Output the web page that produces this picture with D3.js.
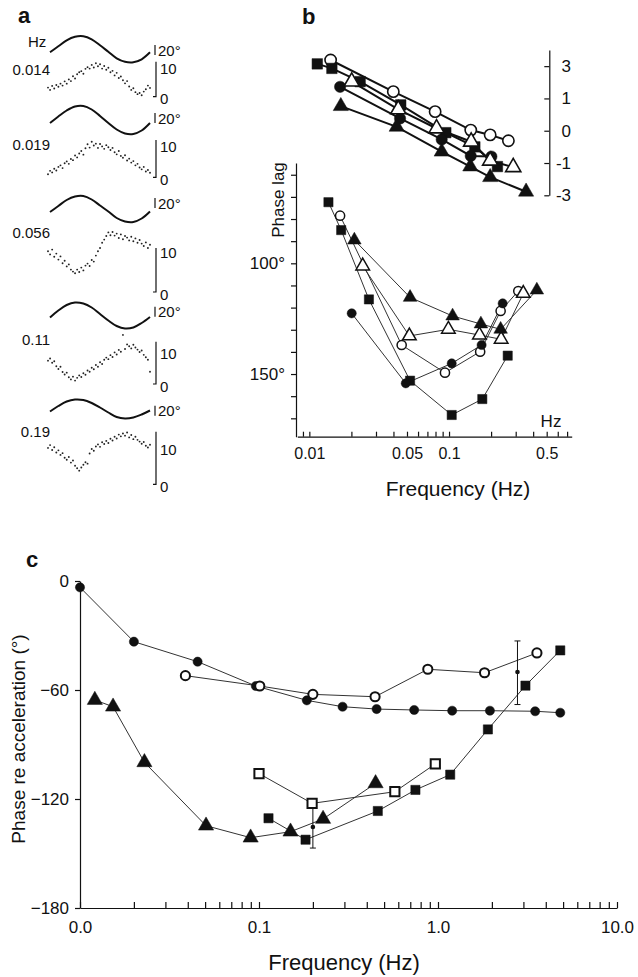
<!DOCTYPE html>
<html>
<head>
<meta charset="utf-8">
<script src="https://cdn.jsdelivr.net/npm/d3@7"></script>
<style>
  body { margin: 0; background: #fff; }
  svg { display: block; font-family: "Liberation Sans", Arial, sans-serif; }
</style>
</head>
<body>
<svg id="fig" width="638" height="977"></svg>
<script>
// ---------- panel a : stimulus (deg) and response traces ----------
const aFreqLabels = ['0.014', '0.019', '0.056', '0.11', '0.19'];
const aStim1 = [-6, 6, 18, 25, 26, 20, 8, -5, -18, -25, -26, -20, -6];
const aStim2 = [-6, 7, 19, 27, 28, 21, 8, -6, -19, -27, -28, -21, -6];
const aStim3 = [-6, 6, 18, 25, 26, 19, 7, -5, -18, -25, -26, -19, -5];
const aStim4 = [-4, 10, 21, 26, 24, 16, 3, -10, -21, -26, -24, -15, -3];
const aStim5 = [-5, 6, 15, 19, 18, 12, 3, -7, -16, -19, -17, -11, -3];
const aTrace1 = [3.2, 2.4, 3.8, 2.9, 4.1, 3.5, 4.6, 3.9, 5.4, 4.6, 6.1, 5.5, 7.2, 6.4, 7.9, 8.6, 9.0, 8.1, 9.8, 10.4, 9.9, 11.2, 10.3, 11.8, 10.7, 11.4, 9.9, 10.8, 9.5, 10.2, 8.6, 9.1, 7.5, 8.4, 6.6, 7.1, 5.8, 4.7, 5.5, 3.6, 2.4, 3.0, 1.6, 0.9, 1.3, 0.5, 1.8, 2.6, 3.9, 3.1];
const aTrace2 = [1.0, 2.1, 1.6, 2.8, 2.2, 3.4, 3.9, 3.0, 4.6, 5.2, 4.4, 6.0, 5.6, 7.1, 6.5, 7.8, 8.6, 7.4, 9.5, 10.8, 9.7, 11.6, 10.4, 11.0, 9.6, 10.9, 10.1, 9.3, 10.5, 9.8, 8.9, 9.6, 8.2, 7.5, 8.6, 7.0, 6.4, 7.2, 5.5, 6.1, 4.8, 5.3, 3.9, 4.4, 3.2, 2.6, 3.4, 1.9, 2.4, 1.5];
const aTrace3 = [10.2, 9.4, 10.6, 8.8, 9.6, 8.1, 8.9, 7.2, 7.8, 6.4, 6.9, 5.6, 5.1, 4.7, 5.6, 5.0, 6.1, 5.4, 6.6, 7.1, 6.5, 8.0, 7.6, 9.1, 10.2, 11.0, 12.3, 13.1, 14.0, 14.9, 14.2, 15.0, 14.1, 14.6, 13.5, 14.4, 13.2, 14.0, 13.6, 12.9, 13.8, 12.7, 13.4, 12.3, 13.0, 12.1, 11.5, 12.4, 11.0, 11.8];
const aTrace4 = [7.6, 8.3, 6.9, 7.4, 5.8, 4.9, 5.6, 3.9, 3.1, 3.7, 2.2, 1.5, 2.4, 1.1, 2.0, 2.8, 2.3, 3.5, 3.0, 4.4, 4.0, 5.3, 4.8, 6.2, 5.6, 7.1, 6.5, 7.9, 8.6, 8.1, 9.4, 8.8, 10.3, 9.6, 11.1, 10.5, 16.0, 11.4, 12.9, 12.3, 11.6, 12.8, 11.9, 11.2, 10.4, 10.9, 9.5, 8.7, 7.9, 4.0];
const aTrace5 = [10.4, 11.2, 9.8, 10.6, 9.1, 9.7, 8.4, 8.9, 7.6, 7.0, 7.8, 6.2, 6.8, 5.3, 4.6, 3.9, 4.8, 5.6, 6.3, 5.9, 8.8, 10.1, 9.6, 10.8, 11.4, 10.7, 12.0, 11.5, 12.4, 11.8, 13.0, 12.5, 13.6, 13.1, 14.2, 13.7, 14.5, 13.9, 14.8, 13.4, 14.1, 12.9, 13.6, 12.7, 12.2, 11.6, 12.1, 11.0, 10.5, 11.3];
const aTraceTop = [12.3, 12.2, 11, 13.8, 15];

// ---------- panel b : upper (gain) and lower (phase lag) ----------
const bTickLabelsUp = ['3', '1', '0', '-1', '-3'];
const bUpSqF = [0.0114, 0.0145, 0.0231, 0.0451, 0.0948, 0.153, 0.222];
const bUpSq = [2.07, 1.93, 1.52, 0.80, -0.06, -0.50, -1.11];
const bUpOcF = [0.0142, 0.0399, 0.0795, 0.143, 0.197, 0.266];
const bUpOc = [2.19, 1.21, 0.59, 0.02, -0.13, -0.31];
const bUpFcF = [0.0166, 0.0446, 0.0886, 0.143, 0.201];
const bUpFc = [1.36, 0.38, -0.27, -0.78, -0.80];
const bUpOtF = [0.0201, 0.0433, 0.0814, 0.144, 0.197, 0.288];
const bUpOt = [1.52, 0.66, 0.07, -0.34, -0.93, -1.13];
const bUpFtF = [0.0168, 0.0422, 0.0886, 0.142, 0.197, 0.356];
const bUpFt = [0.76, 0.12, -0.65, -1.11, -1.44, -1.89];

const bLagSqF = [0.0137, 0.0169, 0.0267, 0.0526, 0.1045, 0.173, 0.263];
const bLagSq = [72.4, 85, 116.3, 153, 168.5, 161.3, 141.7];
const bLagOcF = [0.0166, 0.0458, 0.0935, 0.167, 0.234, 0.313];
const bLagOc = [78.5, 136.9, 149.4, 139.9, 121.5, 112.5];
const bLagFcF = [0.0201, 0.049, 0.1045, 0.171, 0.242];
const bLagFc = [122.6, 154.2, 145.2, 136.9, 118.1];
const bLagOtF = [0.0241, 0.052, 0.0989, 0.165, 0.236, 0.34];
const bLagOt = [101.2, 132.8, 129.8, 132.4, 134.3, 113.6];
const bLagFtF = [0.021, 0.0526, 0.106, 0.169, 0.234, 0.425];
const bLagFt = [89.5, 115.4, 123.8, 127.4, 129.8, 112.1];
const bXLabelTicks = [0.01, 0.05, 0.1, 0.5];
const bXLabels = ['0.01', '0.05', '0.1', '0.5'];
const bYLabelTicks = [100, 150];
const bYLabels = ['100°', '150°'];

// ---------- panel c : phase re acceleration ----------
const cFcF = [0.01, 0.02, 0.0454, 0.096, 0.185, 0.293, 0.454, 0.736, 1.2, 1.95, 3.49, 4.82];
const cFc = [-3.5, -33.4, -44.4, -57.8, -65.7, -69.2, -70.5, -71, -71.4, -71.4, -71.7, -72.5];
const cOcF = [0.0388, 0.101, 0.2, 0.445, 0.877, 1.82, 3.57];
const cOc = [-52.1, -57.8, -62.4, -63.7, -48.6, -50.5, -39.6];
const cFsF = [0.113, 0.182, 0.461, 0.748, 1.17, 1.9, 3.08, 4.82];
const cFs = [-130.6, -142.4, -126.6, -115, -106.6, -81.7, -57.6, -38.2];
const cOsF = [0.1, 0.198, 0.574, 0.966];
const cOs = [-106, -122.4, -116, -100.7];
const cFtF = [0.0121, 0.0153, 0.0229, 0.0506, 0.0898, 0.150, 0.228, 0.448];
const cFt = [-65.5, -69.2, -99.8, -134.7, -141.3, -138, -131, -111.4];
const cErrF = [0.2, 2.78];
const cErrMean = [-135.4, -50.1];
const cErrLo = [-147, -68];
const cErrHi = [-122, -33];
const cXLabelTicks = [0.01, 0.1, 1, 10];
const cXLabels = ['0.0', '0.1', '1.0', '10.0'];
const cYTicks = [0, -60, -120, -180];

const svg = d3.select('#fig');
const ink = '#111';

const symType = { circle: d3.symbolCircle, square: d3.symbolSquare, triangle: d3.symbolTriangle };

function zip(f, v) { return f.map((d, i) => ({ f: d, v: v[i] })); }

function drawLines(g, x, y, series, color, lw) {
  series.forEach(s => {
    g.append('path').datum(zip(s.f, s.v))
      .attr('d', d3.line().x(d => x(d.f)).y(d => y(d.v)))
      .attr('fill', 'none').attr('stroke', color).attr('stroke-width', lw);
  });
}

function drawMarks(g, x, y, series, sizes, openW) {
  series.forEach(s => {
    g.selectAll(null).data(zip(s.f, s.v)).enter().append('path')
      .attr('transform', d => `translate(${x(d.f)},${y(d.v)})`)
      .attr('d', d3.symbol().type(symType[s.shape]).size(sizes[s.shape]))
      .attr('fill', s.filled ? ink : '#fff')
      .attr('stroke', ink)
      .attr('stroke-width', s.filled ? 0.5 : openW);
  });
}

function panelLabel(txt, x, y) {
  svg.append('text').attr('x', x).attr('y', y).text(txt)
    .attr('font-size', 22).attr('font-weight', 'bold').attr('fill', ink);
}

// ================= panel a =================
panelLabel('a', 18, 23);
const aStims = [aStim1, aStim2, aStim3, aStim4, aStim5];
const aTraces = [aTrace1, aTrace2, aTrace3, aTrace4, aTrace5];
const stimMid = [49.3, 120, 209, 315.5, 409];
const stimBarY = [50, 118, 203, 311.7, 410.7];
const traceZero = [96.7, 177.3, 292, 384, 484.3];
const traceTen = [68.3, 146.7, 252, 353.3, 449.3];
const freqLabelY = [75, 150, 238, 345, 437];

const ga = svg.append('g').attr('fill', ink).attr('font-size', 15);
ga.append('text').attr('x', 28).attr('y', 47).text('Hz');

const stimX = d3.scaleLinear().domain([0, 12]).range([50, 150]);
const traceX = d3.scaleLinear().domain([0, 49]).range([48, 150]);

aStims.forEach((stim, k) => {
  const sy = d3.scaleLinear().domain([0, 20]).range([stimMid[k], stimMid[k] - 10]);
  ga.append('path').datum(stim)
    .attr('d', d3.line().x((d, i) => stimX(i)).y(d => sy(d)).curve(d3.curveCatmullRom))
    .attr('fill', 'none').attr('stroke', ink).attr('stroke-width', 2);
  // 20 deg scale bar
  ga.append('line').attr('x1', 155).attr('x2', 155)
    .attr('y1', stimBarY[k] - 5).attr('y2', stimBarY[k] + 5)
    .attr('stroke', ink).attr('stroke-width', 1.2);
  ga.append('text').attr('x', 158).attr('y', stimBarY[k] + 5.5).text('20°');

  ga.append('text').attr('x', 50).attr('y', freqLabelY[k])
    .attr('text-anchor', 'end').text(aFreqLabels[k]);

  const ty = d3.scaleLinear().domain([0, 10]).range([traceZero[k], traceTen[k]]);
  ga.selectAll(null).data(aTraces[k]).enter().append('circle')
    .attr('cx', (d, i) => traceX(i)).attr('cy', d => ty(d))
    .attr('r', 0.95).attr('fill', '#222');
  ga.append('path')
    .attr('d', `M${153},${ty(0)}H${156}V${ty(aTraceTop[k])}`)
    .attr('fill', 'none').attr('stroke', ink).attr('stroke-width', 1.2);
  ga.append('text').attr('x', 160).attr('y', ty(10) + 5.5).text('10');
  ga.append('text').attr('x', 160).attr('y', ty(0) + 7.5).text('0');
});

// ================= panel b =================
panelLabel('b', 302, 24);
const bx = d3.scaleLog().domain([0.0082, 0.755]).range([297.3, 571.7]);
const byUp = d3.scaleLinear().domain([-2, 2.5]).range([195.3, 50]);
const byLag = d3.scaleLinear().domain([54.7, 178.3]).range([163, 436.7]);

const gb = svg.append('g');

// right axis (upper block)
const upAxis = gb.append('g').attr('transform', 'translate(549.3,0)')
  .call(d3.axisLeft(byUp).tickValues([2, 1, 0, -1, -2]).tickSize(5).tickSizeOuter(0)
    .tickFormat(() => ''));
upAxis.selectAll('path,line').attr('stroke', ink).attr('stroke-width', 1.2);
gb.selectAll(null).data([2, 1, 0, -1, -2]).enter().append('text')
  .attr('x', 571).attr('y', d => byUp(d) + 6).attr('text-anchor', 'end')
  .attr('font-size', 17).attr('fill', ink)
  .text((d, i) => bTickLabelsUp[i]);

// left axis (phase lag)
const lagAxis = gb.append('g').attr('transform', 'translate(296,0)')
  .call(d3.axisLeft(byLag).ticks(12).tickSize(5).tickSizeOuter(0)
    .tickFormat(d => { const i = bYLabelTicks.indexOf(d); return i < 0 ? '' : bYLabels[i]; }));
lagAxis.selectAll('path,line').attr('stroke', ink).attr('stroke-width', 1.2);
lagAxis.selectAll('text').attr('font-size', 17).attr('font-family', null).attr('fill', ink).attr('dx', '-3');

// bottom axis
const bAxis = gb.append('g').attr('transform', 'translate(0,436.7)')
  .call(d3.axisBottom(bx).ticks(20).tickSize(-5).tickSizeOuter(0).tickPadding(11)
    .tickFormat(d => { const i = bXLabelTicks.findIndex(t => Math.abs(t - d) < 1e-9); return i < 0 ? '' : bXLabels[i]; }));
bAxis.selectAll('path,line').attr('stroke', ink).attr('stroke-width', 1.2);
bAxis.selectAll('text').attr('font-size', 16).attr('font-family', null).attr('fill', ink);

gb.append('text').attr('x', 551).attr('y', 427).attr('text-anchor', 'middle')
  .attr('font-size', 17).attr('fill', ink).text('Hz');
gb.append('text').attr('x', 458).attr('y', 496).attr('text-anchor', 'middle')
  .attr('font-size', 21).attr('fill', ink).text('Frequency (Hz)');
gb.append('text').attr('transform', 'translate(284,200) rotate(-90)')
  .attr('text-anchor', 'middle').attr('font-size', 17).attr('fill', ink).text('Phase lag');

const bUpSeries = [
  { f: bUpOcF, v: bUpOc, shape: 'circle', filled: false },
  { f: bUpSqF, v: bUpSq, shape: 'square', filled: true },
  { f: bUpFcF, v: bUpFc, shape: 'circle', filled: true },
  { f: bUpOtF, v: bUpOt, shape: 'triangle', filled: false },
  { f: bUpFtF, v: bUpFt, shape: 'triangle', filled: true }
];
const bLagSeries = [
  { f: bLagSqF, v: bLagSq, shape: 'square', filled: true },
  { f: bLagOcF, v: bLagOc, shape: 'circle', filled: false },
  { f: bLagFcF, v: bLagFc, shape: 'circle', filled: true },
  { f: bLagOtF, v: bLagOt, shape: 'triangle', filled: false },
  { f: bLagFtF, v: bLagFt, shape: 'triangle', filled: true }
];
drawLines(gb, bx, byUp, bUpSeries, ink, 2);
drawMarks(gb, bx, byUp, bUpSeries, { circle: 100, square: 110, triangle: 100 }, 1.6);
drawLines(gb, bx, byLag, bLagSeries, '#333', 1);
drawMarks(gb, bx, byLag, bLagSeries, { circle: 66, square: 85, triangle: 80 }, 1.5);

// ================= panel c =================
panelLabel('c', 26, 567);
const cx = d3.scaleLog().domain([0.01, 10]).range([80, 617]);
const cy = d3.scaleLinear().domain([-180, 0]).range([908, 581]);
const gc = svg.append('g');

const cyAxis = gc.append('g').attr('transform', 'translate(80,0)')
  .call(d3.axisLeft(cy).tickValues(cYTicks).tickSize(5).tickSizeOuter(0).tickPadding(6));
cyAxis.selectAll('path,line').attr('stroke', ink).attr('stroke-width', 1.2);
cyAxis.selectAll('text').attr('font-size', 17).attr('font-family', null).attr('fill', ink);

const cxAxis = gc.append('g').attr('transform', 'translate(0,908)')
  .call(d3.axisBottom(cx).ticks(30).tickSize(-6).tickSizeOuter(0).tickPadding(13)
    .tickFormat(d => { const i = cXLabelTicks.findIndex(t => Math.abs(t - d) < 1e-9); return i < 0 ? '' : cXLabels[i]; }));
cxAxis.selectAll('path,line').attr('stroke', ink).attr('stroke-width', 1.2);
cxAxis.selectAll('text').attr('font-size', 17).attr('font-family', null).attr('fill', ink);

gc.append('text').attr('x', 344).attr('y', 970).attr('text-anchor', 'middle')
  .attr('font-size', 22).attr('fill', ink).text('Frequency (Hz)');
gc.append('text').attr('transform', 'translate(25,739) rotate(-90)')
  .attr('text-anchor', 'middle').attr('font-size', 19).attr('fill', ink)
  .text('Phase re acceleration (°)');

const cSeries = [
  { f: cFcF, v: cFc, shape: 'circle', filled: true },
  { f: cOcF, v: cOc, shape: 'circle', filled: false },
  { f: cFsF, v: cFs, shape: 'square', filled: true },
  { f: cOsF, v: cOs, shape: 'square', filled: false },
  { f: cFtF, v: cFt, shape: 'triangle', filled: true }
];
drawLines(gc, cx, cy, cSeries, '#333', 1);

// error bars with mean dots
const errs = cErrF.map((f, i) => ({ f, m: cErrMean[i], lo: cErrLo[i], hi: cErrHi[i] }));
const eg = gc.selectAll(null).data(errs).enter().append('g');
eg.append('path')
  .attr('d', d => `M${cx(d.f) - 3},${cy(d.hi)}H${cx(d.f) + 3}M${cx(d.f)},${cy(d.hi)}V${cy(d.lo)}M${cx(d.f) - 3},${cy(d.lo)}H${cx(d.f) + 3}`)
  .attr('fill', 'none').attr('stroke', ink).attr('stroke-width', 1);
eg.append('circle').attr('cx', d => cx(d.f)).attr('cy', d => cy(d.m)).attr('r', 2.3).attr('fill', ink);

drawMarks(gc, cx, cy, cSeries, { circle: 66, square: 85, triangle: 100 }, 2);
</script>
</body>
</html>
